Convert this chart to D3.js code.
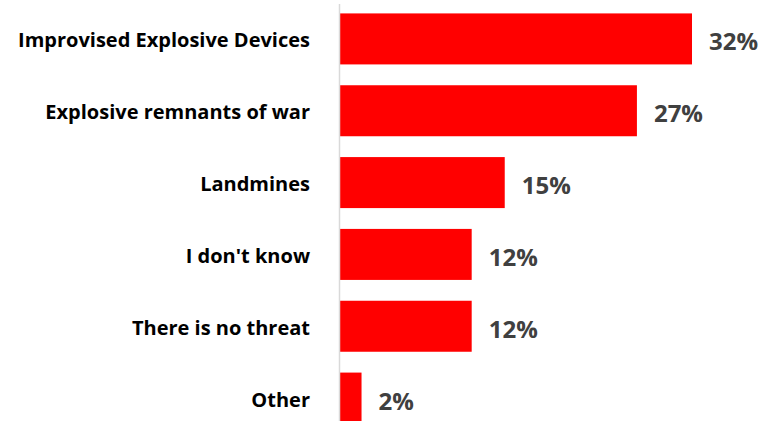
<!DOCTYPE html>
<html>
<head>
<meta charset="utf-8">
<script src="https://cdn.jsdelivr.net/npm/d3@7"></script>
<style>
  html, body { margin: 0; padding: 0; background: #fff; }
  svg { display: block; }
</style>
</head>
<body>
<svg id="chart" width="769" height="421"></svg>
<script>
// Survey answers: perceived explosive threat
const categories = [
  "Improvised Explosive Devices",
  "Explosive remnants of war",
  "Landmines",
  "I don't know",
  "There is no threat",
  "Other"
];
const values = [32, 27, 15, 12, 12, 2];
const valueLabels = ["32%", "27%", "15%", "12%", "12%", "2%"];

const svg = d3.select("#chart");
const axisX = 339.5;

const x = d3.scaleLinear().domain([0, 32]).range([axisX, 692]);
const y = d3.scaleBand()
  .domain(categories)
  .range([3, 434])
  .paddingInner(0.29)
  .paddingOuter(0.145);

const rows = categories.map((c, i) => ({ cat: c, v: values[i], label: valueLabels[i] }));

// bars
svg.append("g").selectAll("rect")
  .data(rows)
  .join("rect")
  .attr("x", x(0))
  .attr("y", d => y(d.cat))
  .attr("width", d => x(d.v) - x(0))
  .attr("height", y.bandwidth())
  .attr("fill", "#FF0000");

// category axis line
svg.append("line")
  .attr("x1", axisX).attr("x2", axisX)
  .attr("y1", 4).attr("y2", 421)
  .attr("stroke", "#d9d9d9")
  .attr("stroke-width", 1.5);

// category labels
svg.append("g").selectAll("text")
  .data(rows)
  .join("text")
  .attr("x", 310)
  .attr("y", d => y(d.cat) + y.bandwidth() / 2 + 1)
  .attr("text-anchor", "end")
  .attr("dominant-baseline", "central")
  .attr("font-family", "'Open Sans', sans-serif")
  .attr("font-weight", 700)
  .attr("font-size", 20)
  .attr("fill", "#000")
  .text(d => d.cat);

// value labels
svg.append("g").selectAll("text")
  .data(rows)
  .join("text")
  .attr("x", d => x(d.v) + 17)
  .attr("y", d => y(d.cat) + y.bandwidth() / 2 + 2)
  .attr("dominant-baseline", "central")
  .attr("font-family", "'Open Sans', sans-serif")
  .attr("font-weight", 700)
  .attr("font-size", 24)
  .attr("fill", "#404040")
  .text(d => d.label);
</script>
</body>
</html>
